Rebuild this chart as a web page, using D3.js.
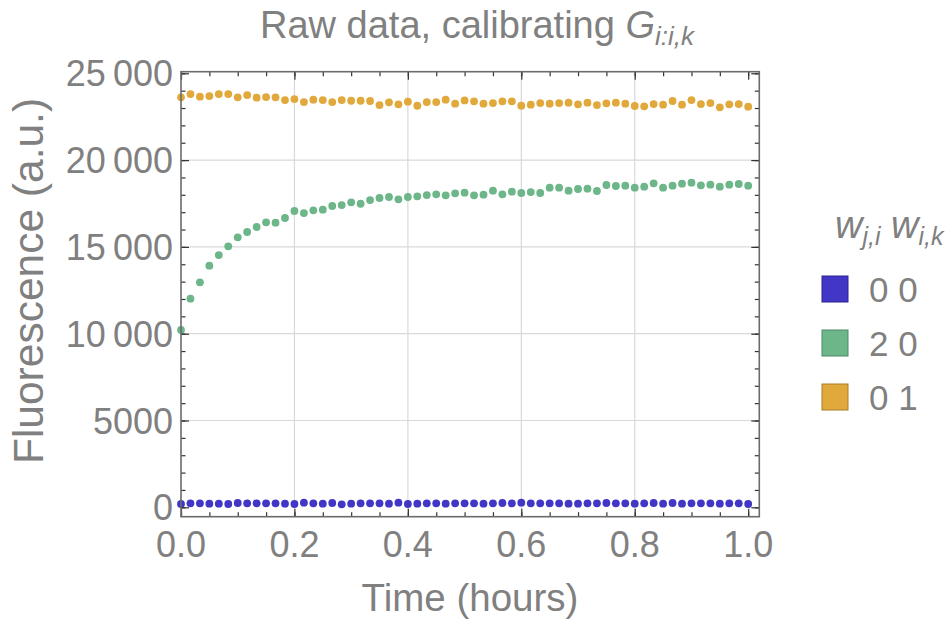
<!DOCTYPE html>
<html>
<head>
  <meta charset="utf-8">
  <title>Raw data, calibrating G</title>
  <script src="https://d3js.org/d3.v7.min.js"></script>
</head>
<style>
body {
  margin: 0;
  background-color: #fff;
  font-family: 'Liberation Sans', Arial, sans-serif;
}
.label {
  fill: #808080;
}
.grid line {
  stroke: #d9d9d9;
  stroke-width: 1.2px;
}
</style>
<body>
<div id="chart"></div>
<script>
// time points (hours), one reading per minute
var minutes = d3.range(0, 61);
var times = minutes.map(function(m) { return m / 60; });

// fluorescence readings
var series00 = [190, 228, 228, 209, 209, 190, 247, 228, 228, 228,
  228, 209, 190, 267, 228, 209, 247, 170, 209, 228,
  228, 228, 209, 267, 190, 209, 228, 228, 209, 228,
  228, 228, 209, 228, 247, 228, 267, 228, 228, 228,
  228, 209, 209, 228, 228, 247, 228, 228, 209, 228,
  247, 209, 247, 209, 228, 228, 228, 209, 228, 228, 190];

var series20 = [10212, 12015, 12960, 13916, 14532, 15034, 15552, 15857, 16145, 16416,
  16393, 16664, 17067, 16951, 17107, 17142, 17355, 17412, 17568, 17487,
  17700, 17816, 17873, 17740, 17873, 17914, 17988, 18028, 17971, 18086,
  18121, 17971, 18006, 18236, 18028, 18179, 18104, 18161, 18104, 18409,
  18409, 18236, 18334, 18352, 18219, 18565, 18507, 18525, 18409, 18467,
  18662, 18409, 18525, 18640, 18697, 18547, 18582, 18467, 18582, 18622, 18525];

var series01 = [23616, 23806, 23652, 23690, 23806, 23806, 23616, 23748, 23595, 23633,
  23616, 23460, 23518, 23345, 23480, 23460, 23345, 23460, 23420, 23420,
  23403, 23172, 23328, 23213, 23364, 23132, 23345, 23345, 23480, 23248,
  23440, 23386, 23248, 23287, 23386, 23386, 23132, 23190, 23287, 23248,
  23287, 23307, 23213, 23307, 23172, 23268, 23307, 23248, 23115, 23096,
  23230, 23190, 23403, 23190, 23460, 23230, 23287, 23040, 23213, 23230, 23075];

var seriesNames = [["0", "0"], ["2", "0"], ["0", "1"]];
var seriesColors = ["#4136c6", "#6cb68a", "#e1a83b"];
var seriesBorders = ["#2c2391", "#4d8a66", "#a87c28"];

var xTicks = [0, 0.2, 0.4, 0.6, 0.8, 1.0];
var xTickLabels = ["0.0", "0.2", "0.4", "0.6", "0.8", "1.0"];
var yTicks = [0, 5000, 10000, 15000, 20000, 25000];
var yTickLabels = ["0", "5000", "10\u2009000", "15\u2009000", "20\u2009000", "25\u2009000"];

var width = 947,
    height = 623;
var plot = {left: 181, right: 759.3, top: 71.7, bottom: 516.7};

var svg = d3.select("#chart")
  .append("svg")
  .attr("width", width)
  .attr("height", height);

var x = d3.scaleLinear()
  .domain([0, 1.0196])
  .range([plot.left, plot.right]);

var y = d3.scaleLinear()
  .domain([-541, 25092])
  .range([plot.bottom, plot.top]);

// grid lines
var grid = svg.append("g").attr("class", "grid");
grid.selectAll(".gx")
  .data(xTicks.slice(1, 5))
  .enter()
  .append("line")
  .attr("x1", function(d) { return x(d); })
  .attr("x2", function(d) { return x(d); })
  .attr("y1", plot.top)
  .attr("y2", plot.bottom);
grid.selectAll(".gy")
  .data(yTicks.slice(1, 5))
  .enter()
  .append("line")
  .attr("x1", plot.left)
  .attr("x2", plot.right)
  .attr("y1", function(d) { return y(d); })
  .attr("y2", function(d) { return y(d); });

// data points
var allSeries = [series00, series20, series01];
allSeries.forEach(function(values, i) {
  svg.append("g")
    .selectAll("circle")
    .data(values)
    .enter()
    .append("circle")
    .attr("cx", function(d, j) { return x(times[j]); })
    .attr("cy", function(d) { return y(d); })
    .attr("r", 3.9)
    .attr("fill", seriesColors[i]);
});

// frame with inward ticks on all four sides
var w = plot.right - plot.left,
    h = plot.bottom - plot.top;
var xMinor = d3.range(0, 1.0001, 0.05);
var yMinor = d3.range(0, 25001, 1000);

svg.append("g")
  .attr("transform", "translate(0," + plot.bottom + ")")
  .call(d3.axisBottom(x).tickValues(xMinor).tickSize(-4.5).tickFormat(""));
svg.append("g")
  .attr("transform", "translate(0," + plot.bottom + ")")
  .call(d3.axisBottom(x).tickValues(xTicks).tickSize(-8).tickFormat(""));
svg.append("g")
  .attr("transform", "translate(0," + plot.top + ")")
  .call(d3.axisTop(x).tickValues(xMinor).tickSize(-4.5).tickFormat(""));
svg.append("g")
  .attr("transform", "translate(0," + plot.top + ")")
  .call(d3.axisTop(x).tickValues(xTicks).tickSize(-8).tickFormat(""));
svg.append("g")
  .attr("transform", "translate(" + plot.left + ",0)")
  .call(d3.axisLeft(y).tickValues(yMinor).tickSize(-4.5).tickFormat(""));
svg.append("g")
  .attr("transform", "translate(" + plot.left + ",0)")
  .call(d3.axisLeft(y).tickValues(yTicks).tickSize(-8).tickFormat(""));
svg.append("g")
  .attr("transform", "translate(" + plot.right + ",0)")
  .call(d3.axisRight(y).tickValues(yMinor).tickSize(-4.5).tickFormat(""));
svg.append("g")
  .attr("transform", "translate(" + plot.right + ",0)")
  .call(d3.axisRight(y).tickValues(yTicks).tickSize(-8).tickFormat(""));

svg.selectAll(".domain").remove();
svg.selectAll(".tick line").attr("stroke", "#333").attr("stroke-width", 1.2);

svg.append("rect")
  .attr("x", plot.left)
  .attr("y", plot.top)
  .attr("width", w)
  .attr("height", h)
  .attr("fill", "none")
  .attr("stroke", "#6b6b6b")
  .attr("stroke-width", 1.6);

// tick labels
svg.selectAll(".xlab")
  .data(xTicks)
  .enter()
  .append("text")
  .attr("class", "label")
  .attr("x", function(d) { return x(d); })
  .attr("y", 557)
  .attr("text-anchor", "middle")
  .style("font-size", "36px")
  .text(function(d, i) { return xTickLabels[i]; });

svg.selectAll(".ylab")
  .data(yTicks)
  .enter()
  .append("text")
  .attr("class", "label")
  .attr("x", 173)
  .attr("y", function(d) { return y(d) + 13; })
  .attr("text-anchor", "end")
  .style("font-size", "36px")
  .text(function(d, i) { return yTickLabels[i]; });

// axis titles
svg.append("text")
  .attr("class", "label")
  .attr("x", 470)
  .attr("y", 611)
  .attr("text-anchor", "middle")
  .style("font-size", "38.5px")
  .text("Time (hours)");

svg.append("text")
  .attr("class", "label")
  .attr("transform", "translate(43,281) rotate(-90)")
  .attr("text-anchor", "middle")
  .style("font-size", "42.5px")
  .text("Fluorescence (a.u.)");

// title
var title = svg.append("text")
  .attr("class", "label")
  .attr("x", 477)
  .attr("y", 38)
  .attr("text-anchor", "middle")
  .style("font-size", "38px");
title.append("tspan").text("Raw data, calibrating ");
title.append("tspan").style("font-style", "italic").text("G");
title.append("tspan")
  .style("font-style", "italic")
  .style("font-size", "26px")
  .attr("dy", 7)
  .text("i:i,k");

// legend
var legendTitle = svg.append("text")
  .attr("class", "label")
  .attr("x", 835)
  .attr("y", 238)
  .style("font-size", "38px")
  .style("font-style", "italic");
legendTitle.append("tspan").text("w");
legendTitle.append("tspan").style("font-size", "25px").attr("dy", 7).text("j,i");
legendTitle.append("tspan").style("font-size", "38px").attr("dy", -7).text(" w");
legendTitle.append("tspan").style("font-size", "25px").attr("dy", 7).text("i,k");

var legend = svg.selectAll(".legend")
  .data(seriesNames)
  .enter()
  .append("g")
  .attr("transform", function(d, i) { return "translate(822," + (276 + i * 54) + ")"; });

legend.append("rect")
  .attr("width", 26)
  .attr("height", 26)
  .attr("fill", function(d, i) { return seriesColors[i]; })
  .attr("stroke", function(d, i) { return seriesBorders[i]; })
  .attr("stroke-width", 1);

legend.append("text")
  .attr("class", "label")
  .attr("x", 47)
  .attr("y", 26)
  .style("font-size", "35px")
  .text(function(d) { return d[0] + " " + d[1]; });
</script>
</body>
</html>
